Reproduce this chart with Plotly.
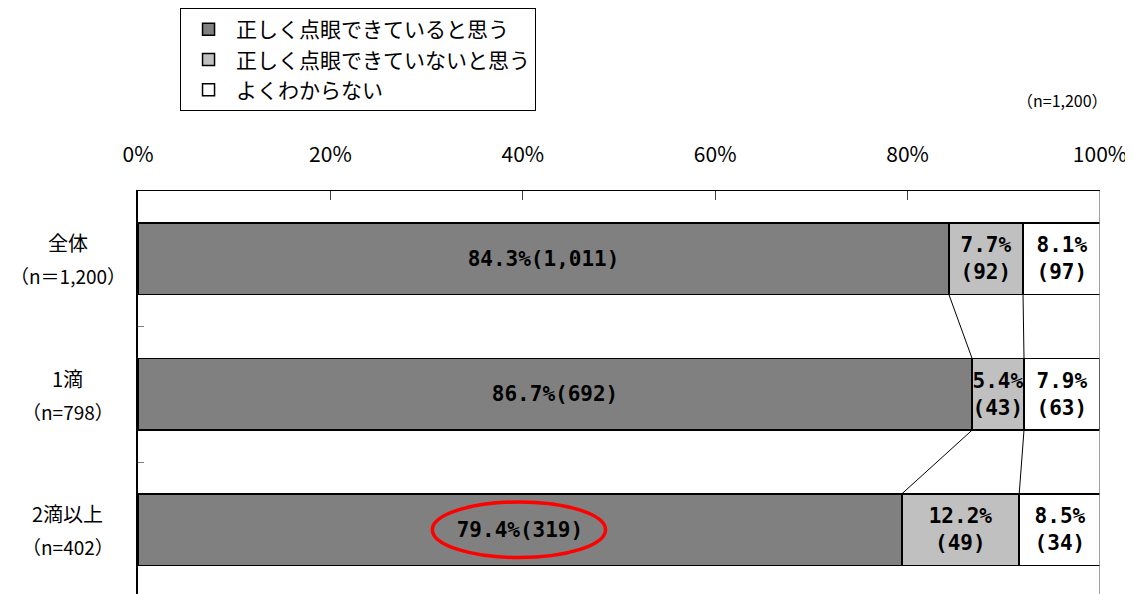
import plotly.graph_objects as go

categories = ["全体", "1滴", "2滴以上"]
sample_labels = ["（n＝1,200）", "（n=798）", "（n=402）"]
series_names = ["正しく点眼できていると思う", "正しく点眼できていないと思う", "よくわからない"]
pct_yes = [84.3, 86.7, 79.4]
cnt_yes = [1011, 692, 319]
pct_no = [7.7, 5.4, 12.2]
cnt_no = [92, 43, 49]
pct_unk = [8.1, 7.9, 8.5]
cnt_unk = [97, 63, 34]
x_ticks = [0, 20, 40, 60, 80, 100]

colors = ["#808080", "#C0C0C0", "#FFFFFF"]
JP = "Noto Sans CJK JP"
MONO = "DejaVu Sans Mono"
BAR_W = 0.53

fig = go.Figure()
texts_yes = [f"{p}%({c:,})" for p, c in zip(pct_yes, cnt_yes)]
texts_no = [f"{p}%<br>({c:,})" for p, c in zip(pct_no, cnt_no)]
texts_unk = [f"{p}%<br>({c:,})" for p, c in zip(pct_unk, cnt_unk)]
for name, vals, txt, col in zip(series_names, [pct_yes, pct_no, pct_unk],
                                [texts_yes, texts_no, texts_unk], colors):
    fig.add_trace(go.Bar(
        y=categories, x=vals, name=name, orientation="h",
        width=BAR_W, text=txt, textposition="inside",
        insidetextanchor="middle",
        textfont=dict(family=MONO, size=21, color="black", weight="bold"),
        marker=dict(color=col, line=dict(color="black", width=1.5)),
        hoverinfo="skip",
    ))

shapes = []
# series connector lines
edges1 = [a for a in pct_yes]
edges2 = [a + b for a, b in zip(pct_yes, pct_no)]
for edges in (edges1, edges2):
    for i in range(len(categories) - 1):
        shapes.append(dict(type="line", xref="x", yref="y",
                           x0=edges[i], y0=i + BAR_W / 2,
                           x1=edges[i + 1], y1=i + 1 - BAR_W / 2,
                           line=dict(color="black", width=1)))
# right plot-area border
shapes.append(dict(type="line", xref="x", yref="paper", x0=100, x1=100, y0=0, y1=1,
                   line=dict(color="#808080", width=1.5)))
# red highlight ellipse
shapes.append(dict(type="circle", xref="x", yref="y",
                   x0=30.6, x1=48.6, y0=2 - 0.205, y1=2 + 0.205,
                   line=dict(color="red", width=3.5)))

annotations = []
for cat, lab in zip(categories, sample_labels):
    annotations.append(dict(x=-0.073, xref="paper", y=cat, yref="y", text=cat,
                            showarrow=False, xanchor="center", yanchor="middle",
                            yshift=16, font=dict(family=JP, size=20, color="black")))
    annotations.append(dict(x=-0.073, xref="paper", y=cat, yref="y", text=lab,
                            showarrow=False, xanchor="center", yanchor="middle",
                            yshift=-17, font=dict(family=JP, size=19, color="black")))
annotations.append(dict(x=0.9615, xref="paper", y=1.226, yref="paper", text="（n=1,200）",
                        showarrow=False, xanchor="center", yanchor="middle",
                        font=dict(family=JP, size=16, color="black")))

fig.update_layout(
    width=1125, height=586,
    margin=dict(l=130, r=33, t=183, b=0),
    barmode="stack",
    plot_bgcolor="white", paper_bgcolor="white",
    showlegend=True,
    legend=dict(x=0.0437, y=1.454, xanchor="left", yanchor="top",
                traceorder="normal", bordercolor="black", borderwidth=1,
                font=dict(family=JP, size=21, color="black"),
                itemwidth=45, tracegroupgap=0,
                bgcolor="white"),
    xaxis=dict(side="top", range=[0, 100], tickvals=x_ticks,
               ticktext=[f"{v}%" for v in x_ticks],
               showgrid=False, zeroline=False, showline=True,
               linecolor="black", linewidth=1, ticks="inside", ticklen=9,
               tickcolor="#404040", ticklabelstandoff=20,
               tickfont=dict(family=JP, size=21, color="black")),
    yaxis=dict(type="category", categoryorder="array", categoryarray=categories,
               range=[2.474, -0.5], showticklabels=False, showgrid=False,
               zeroline=False, showline=True, linecolor="black", linewidth=1.5,
               ticks="inside", tickson="boundaries", ticklen=6, tickcolor="#808080"),
    uniformtext=dict(minsize=21, mode="show"),
    shapes=shapes,
    annotations=annotations,
)

fig.write_html("out.html")
